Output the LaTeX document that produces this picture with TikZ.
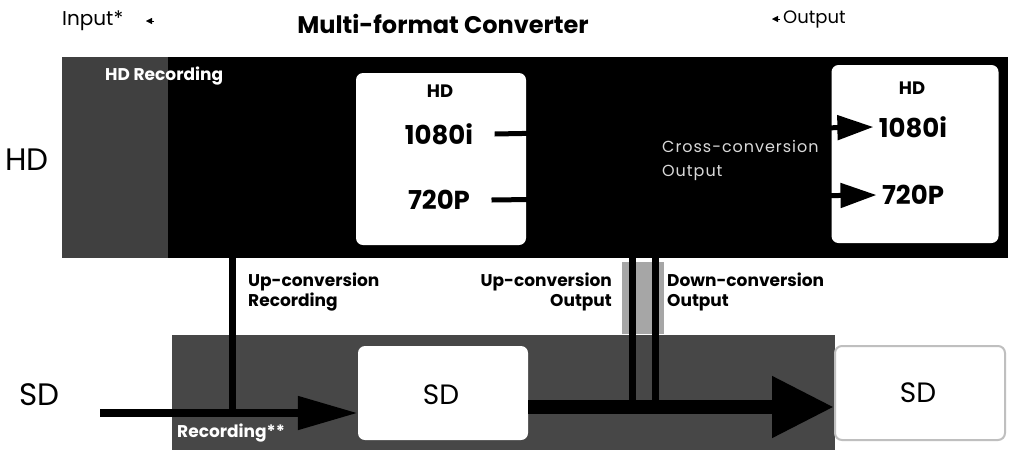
\documentclass[tikz,border=0pt]{standalone}
\usepackage{fontspec}
\setmainfont{Poppins}
\setsansfont{Poppins}
\usetikzlibrary{arrows.meta}
\begin{document}
\begin{tikzpicture}[x=1pt,y=-1pt,font=\sffamily,
  box/.style={fill=white,rounded corners=7pt,inner sep=0pt},
  big/.style={font=\sffamily\fontsize{28}{30}\selectfont},
  bigb/.style={font=\sffamily\bfseries\fontsize{26}{28}\selectfont},
  hdsmall/.style={font=\sffamily\bfseries\fontsize{18}{20}\selectfont},
  whitelab/.style={font=\sffamily\bfseries\fontsize{17}{19}\selectfont,inner sep=0pt,text=white},
  midlab/.style={font=\sffamily\bfseries\fontsize{17}{20}\selectfont,inner sep=0pt},
  toplab/.style={font=\sffamily\fontsize{18}{20}\selectfont,inner sep=0pt},
  sidelab/.style={font=\sffamily\fontsize{31}{33}\selectfont,inner sep=0pt},
  conn/.style={line width=5pt,black},
  thintip/.style={-{Triangle[length=36pt,width=24pt]}},
  fattip/.style={-{Triangle[length=62pt,width=58pt]}}
]
\useasboundingbox[fill=white] (0,0) rectangle (1017,456);

% bands
\fill[black] (62,57) rectangle (1008,258);
\fill[black!75] (62,57) rectangle (168,258);
\fill[black!72] (172,335) rectangle (835,450);
\fill[black!35] (622,262) rectangle (664,334);

% top labels
\node[toplab,anchor=west,font=\sffamily\fontsize{20}{22}\selectfont] (inlab) at (62,21) {Input*};
\node[toplab,anchor=west] (outlab) at (783,19) {Output};
\node[font=\sffamily\bfseries\fontsize{24}{26}\selectfont,inner sep=0pt] (title) at (443,24) {Multi-format Converter};
\coordinate (ia) at (154,21); \coordinate (ib) at (146,21);
\draw[-{Triangle[length=6pt,width=6pt]}] (ia) -- (ib);
\coordinate (oa) at (780,19); \coordinate (ob) at (772,19);
\draw[-{Triangle[length=6pt,width=6pt]}] (oa) -- (ob);

% side labels
\node[sidelab,anchor=west] (hdlab) at (5,160) {HD};
\node[sidelab,anchor=west] (sdlab) at (19,395) {SD};

% HD band content
\node[whitelab,anchor=west] (hdrec) at (105,76) {HD Recording};
\node[box,minimum width=170pt,minimum height=172pt] (hdin) at (441,159) {};
\node[box,minimum width=167pt,minimum height=178pt] (hdout) at (915,154) {};
\node[hdsmall] (hdinT) at (440,91) {HD};
\node[bigb] (in1080) at (439,134) {1080i};
\node[bigb] (in720) at (439,200) {720P};
\node[hdsmall] (hdoutT) at (912,88) {HD};
\node[bigb] (out1080) at (913,127) {1080i};
\node[bigb] (out720) at (913,195) {720P};
\node[anchor=west,inner sep=0pt,text=black!15,font=\sffamily\fontsize{16}{24}\selectfont\addfontfeatures{LetterSpace=6},align=left] (cross) at (662,160) {Cross-conversion\\Output};

\draw[conn,thintip] ([xshift=18pt]in1080.east) -- ([xshift=-2pt]out1080.west);
\draw[conn,thintip] ([xshift=18pt]in720.east) -- ([xshift=-2pt]out720.west);

% SD row
\node[box,minimum width=170pt,minimum height=94pt] (sdin) at (443,393) {};
\node[box,draw=black!25,line width=2pt,minimum width=170pt,minimum height=94pt] (sdout) at (920,393) {};
\node[big] (sdinT) at (441,395) {SD};
\node[big] (sdoutT) at (918,393) {SD};
\node[whitelab,anchor=west] (sdrec) at (177,433) {Recording**};

\coordinate (sdsrc) at (100,413);
\draw[line width=8pt,-{Triangle[length=60pt,width=32pt]}] (sdsrc) -- (sdsrc -| sdin.west);
\draw[line width=14pt,fattip] (sdin.east |- 0,407) -- (sdout.west |- 0,407);

% vertical connectors
\coordinate (v1t) at (232,256); \coordinate (v1b) at (232,413);
\coordinate (v2t) at (632,256); \coordinate (v2b) at (632,407);
\coordinate (v3t) at (655,256); \coordinate (v3b) at (655,407);
\draw[line width=7pt] (v1t) -- (v1b);
\draw[line width=7pt] (v2t) -- (v2b);
\draw[line width=7pt] (v3t) -- (v3b);

% middle labels
\node[midlab,anchor=north west,align=left] (upr) at (248,273) {Up-conversion\\Recording};
\node[midlab,anchor=north east,align=right] (upo) at (612,273) {Up-conversion\\Output};
\node[midlab,anchor=north west,align=left] (dno) at (667,273) {Down-conversion\\Output};
\end{tikzpicture}
\end{document}
